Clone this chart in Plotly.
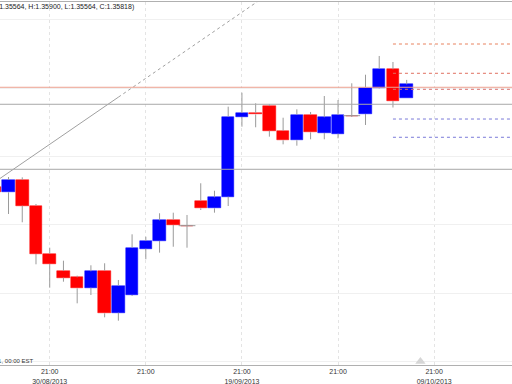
import numpy as np
import plotly.graph_objects as go

# ---------------- data ----------------
dates = ["2013-08-26", "2013-08-27", "2013-08-28", "2013-08-29", "2013-08-30",
         "2013-09-02", "2013-09-03", "2013-09-04", "2013-09-05", "2013-09-06",
         "2013-09-09", "2013-09-10", "2013-09-11", "2013-09-12", "2013-09-13",
         "2013-09-16", "2013-09-17", "2013-09-18", "2013-09-19", "2013-09-20",
         "2013-09-23", "2013-09-24", "2013-09-25", "2013-09-26", "2013-09-27",
         "2013-09-30", "2013-10-01", "2013-10-02", "2013-10-03", "2013-10-04",
         "2013-10-07"]
opens = [1.33934, 1.33843, 1.34068, 1.33598, 1.32714, 1.32403, 1.32287, 1.32097,
         1.32408, 1.31639, 1.31963, 1.32811, 1.32952, 1.33342, 1.33232, 1.33689,
         1.33550, 1.33762, 1.35221, 1.35294, 1.35422, 1.34970, 1.34795, 1.35263,
         1.34928, 1.34915, 1.35245, 1.35276, 1.35757, 1.36094, 1.35564]
highs = [1.33977, 1.34123, 1.34117, 1.33629, 1.32829, 1.32591, 1.32317, 1.32507,
         1.32544, 1.32238, 1.33074, 1.33030, 1.33459, 1.33470, 1.33428, 1.34008,
         1.33872, 1.35410, 1.35666, 1.35472, 1.35454, 1.35208, 1.35362, 1.35313,
         1.35605, 1.35532, 1.35838, 1.35995, 1.36338, 1.36228, 1.35900]
lows = [1.33830, 1.33446, 1.33294, 1.32525, 1.32097, 1.32207, 1.31811, 1.31963,
        1.31555, 1.31493, 1.31945, 1.32617, 1.32738, 1.32847, 1.32829, 1.33519,
        1.33470, 1.33592, 1.35044, 1.35033, 1.34861, 1.34721, 1.34696, 1.34813,
        1.34813, 1.34831, 1.35221, 1.35075, 1.35743, 1.35395, 1.35564]
closes = [1.33854, 1.34068, 1.33598, 1.32714, 1.32531, 1.32280, 1.32086, 1.32397,
          1.31628, 1.32134, 1.32829, 1.32952, 1.33330, 1.33245, 1.33232, 1.33550,
          1.33751, 1.35227, 1.35294, 1.35270, 1.34970, 1.34795, 1.35263, 1.34941,
          1.35216, 1.35258, 1.35245, 1.35757, 1.36100, 1.35514, 1.35818]

tick_dates = ["2013-08-30", "2013-09-10", "2013-09-19", "2013-09-30", "2013-10-09"]
tick_labels = ["21:00<br>30/08/2013", "21:00", "21:00<br>19/09/2013", "21:00",
               "21:00<br>09/10/2013"]

grid_prices = [1.3700, 1.3575, 1.3450, 1.3325, 1.3200, 1.3075]
sr_lines = [1.34264, 1.35454]          # dark grey horizontal lines
level_line = 1.35765                   # salmon horizontal line
pivot_start = "2013-10-04"
pivot_levels = [1.36557, 1.36021, 1.35728, 1.35184, 1.34850]
pivot_colors = ["#e8825e", "#e07060", "#d87070", "#7a7ad8", "#7a7ad8"]

trend_dates = ["2013-08-26", "2013-09-06", "2013-09-23"]
trend_prices = [1.34031, 1.35584, 1.37483]

now_date = "2013-10-08"
title_text = "EUR/USD (O:1.35564, H:1.35900, L:1.35564, C:1.35818)"
tz_text = "Tue Oct 01, 00:00 EST"

# ---------------- positions on a trading-day scale ----------------
start = np.datetime64(dates[0])
def pos(d):
    return int(np.busday_count(start, np.datetime64(d)))

xs = [pos(d) for d in dates]
tick_pos = [pos(d) for d in tick_dates]

UP, DOWN, GREY = "#0000ff", "#ff0000", "#9a9a9a"

fig = go.Figure()

# bodies
base = [min(o, c) for o, c in zip(opens, closes)]
height = [abs(c - o) for o, c in zip(opens, closes)]
colors = [UP if c > o else DOWN for o, c in zip(opens, closes)]
fig.add_trace(go.Bar(x=xs, y=height, base=base, width=0.91,
                     marker=dict(color=colors, line=dict(color=colors, width=0.5)),
                     hoverinfo="skip", showlegend=False))

# wicks (outside the bodies)
wx, wy = [], []
for x, o, h, l, c in zip(xs, opens, highs, lows, closes):
    lo, hi = min(o, c), max(o, c)
    if h > hi:
        wx += [x, x, None]; wy += [hi, h, None]
    if l < lo:
        wx += [x, x, None]; wy += [l, lo, None]
fig.add_trace(go.Scatter(x=wx, y=wy, mode="lines", line=dict(color=GREY, width=1),
                         hoverinfo="skip", showlegend=False))

# doji bodies
dx = [x for x, o, c in zip(xs, opens, closes) if o == c]
dy = [o for o, c in zip(opens, closes) if o == c]
fig.add_trace(go.Scatter(x=dx, y=dy, mode="markers",
                         marker=dict(symbol="line-ew", size=12,
                                     line=dict(color=GREY, width=1)),
                         hoverinfo="skip", showlegend=False))

# trend line: solid between anchors, dotted extension
tx = [pos(d) for d in trend_dates]
fig.add_trace(go.Scatter(x=tx[:2], y=trend_prices[:2], mode="lines",
                         line=dict(color="#a0a0a0", width=1),
                         hoverinfo="skip", showlegend=False))
fig.add_trace(go.Scatter(x=tx[1:], y=trend_prices[1:], mode="lines",
                         line=dict(color="#a0a0a0", width=1, dash="dot"),
                         hoverinfo="skip", showlegend=False))

# current time marker
fig.add_trace(go.Scatter(x=[pos(now_date)], y=[1.30745], mode="markers",
                         marker=dict(symbol="triangle-up", size=9, color="#d6d6d6"),
                         cliponaxis=False, hoverinfo="skip", showlegend=False))

xr = [0.379, 37.67]
yr = [1.306822, 1.373258]

shapes = []
for p in sr_lines:
    shapes.append(dict(type="line", xref="paper", x0=0, x1=1, yref="y", y0=p, y1=p,
                       line=dict(color="#a8a8a8", width=1), layer="above"))
shapes.append(dict(type="line", xref="paper", x0=0, x1=1, yref="y", y0=level_line,
                   y1=level_line, line=dict(color="#eca090", width=1), layer="above"))
for p, col in zip(pivot_levels, pivot_colors):
    shapes.append(dict(type="line", xref="x", x0=pos(pivot_start), x1=xr[1], yref="y",
                       y0=p, y1=p, line=dict(color=col, width=1, dash="dot"),
                       layer="above"))

fig.update_layout(
    width=512, height=384,
    margin=dict(l=0, r=0, t=2, b=19),
    paper_bgcolor="white", plot_bgcolor="white",
    bargap=0,
    shapes=shapes,
    font=dict(family="Liberation Sans, Arial, sans-serif", size=7, color="#333333"),
    xaxis=dict(range=xr, tickvals=tick_pos, ticktext=tick_labels,
               showgrid=True, gridcolor="#e4e4e4", griddash="dot", gridwidth=1,
               showline=True, linecolor="#b0b0b0", linewidth=1, mirror=True,
               ticks="", zeroline=False, tickfont=dict(size=7, color="#333333")),
    yaxis=dict(range=yr, tickvals=grid_prices, showticklabels=False,
               showgrid=True, gridcolor="#f0f0f0", gridwidth=1, zeroline=False,
               showline=False, ticks=""),
    annotations=[
        dict(text=title_text, xref="paper", yref="paper", x=136 / 512, y=0.986,
             xanchor="right", yanchor="middle", showarrow=False,
             font=dict(size=7, color="#222222")),
        dict(text=tz_text, xref="paper", yref="paper", x=35 / 512, y=0.012,
             xanchor="right", yanchor="middle", showarrow=False,
             font=dict(size=6, color="#333333")),
    ],
)

fig.write_html("out.html", config={"displayModeBar": False},
               post_script="document.body.style.margin='0';document.body.style.overflow='hidden';")
